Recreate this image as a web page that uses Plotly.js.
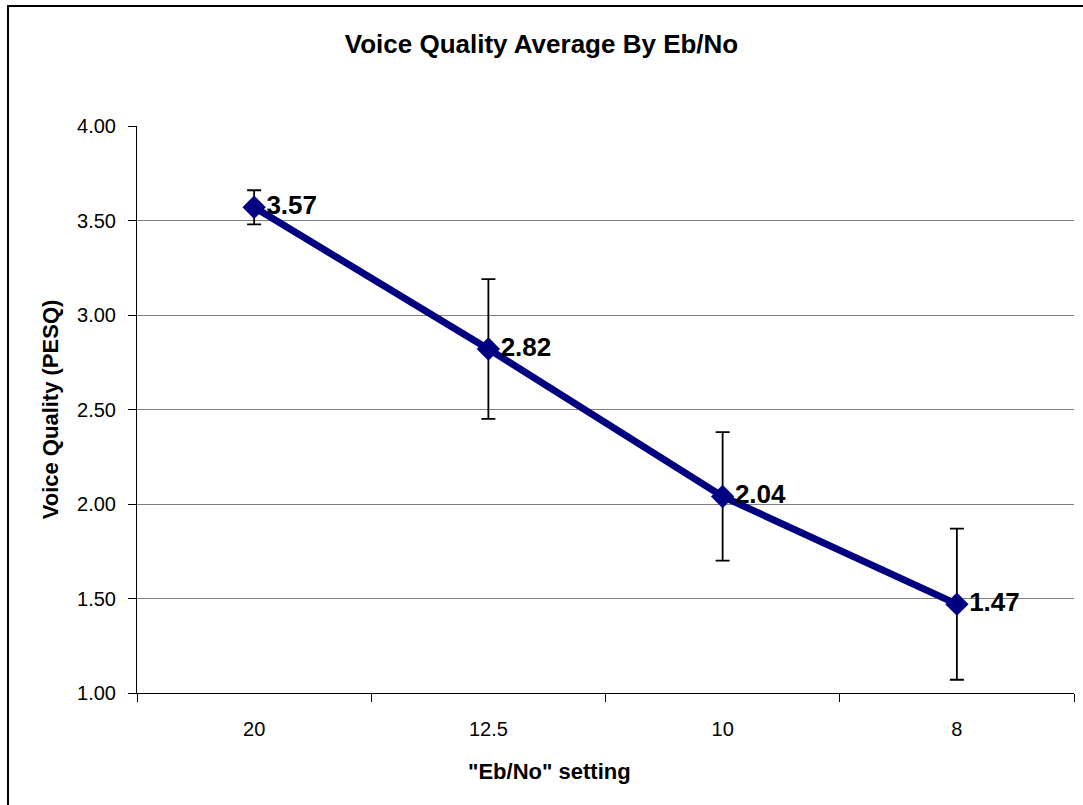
<!DOCTYPE html>
<html>
<head>
<meta charset="utf-8">
<script src="https://cdn.plot.ly/plotly-3.0.1.min.js"></script>
<style>
  html, body { margin: 0; padding: 0; background: #ffffff; }
  #chart { width: 1083px; height: 805px; }
</style>
</head>
<body>
<div id="chart"></div>
<script>
// Data
const categories = ["20", "12.5", "10", "8"];
const pesqMeans = [3.57, 2.82, 2.04, 1.47];
const pesqErrors = [0.09, 0.37, 0.34, 0.40];
const yTickValues = [1.0, 1.5, 2.0, 2.5, 3.0, 3.5, 4.0];

const chartTitle = "Voice Quality Average By Eb/No";
const xTitle = "\"Eb/No\" setting";
const yTitle = "Voice Quality (PESQ)";

const FONT = "Liberation Sans, Arial, sans-serif";

const trace = {
  type: "scatter",
  mode: "lines+markers+text",
  x: categories,
  y: pesqMeans,
  line: { color: "#000080", width: 7 },
  marker: { symbol: "diamond", size: 18, color: "#000080" },
  error_y: {
    type: "data",
    array: pesqErrors,
    visible: true,
    color: "#000000",
    thickness: 1.8,
    width: 7
  },
  text: pesqMeans.map(v => v.toFixed(2)),
  texttemplate: "<b>%{text}</b>",
  textposition: "middle right",
  textfont: { family: FONT, size: 26, color: "#000000" },
  cliponaxis: false,
  hoverinfo: "x+y"
};

const layout = {
  width: 1083,
  height: 805,
  paper_bgcolor: "#ffffff",
  plot_bgcolor: "#ffffff",
  showlegend: false,
  margin: { l: 137, r: 9, t: 126, b: 112 },
  font: { family: FONT, color: "#000000" },
  title: {
    text: "<b>" + chartTitle + "</b>",
    font: { family: FONT, size: 26, color: "#000000" },
    xref: "container", x: 0.5, xanchor: "center",
    yref: "container", y: 1 - 44 / 805, yanchor: "middle"
  },
  xaxis: {
    type: "category",
    range: [-0.5, 3.5],
    tickson: "boundaries",
    ticks: "outside",
    ticklen: 8,
    tickwidth: 1,
    tickcolor: "#000000",
    showline: true,
    linecolor: "#000000",
    linewidth: 1,
    showgrid: false,
    zeroline: false,
    tickfont: { family: FONT, size: 20, color: "#000000" },
    ticklabelstandoff: 18
  },
  yaxis: {
    range: [1, 4],
    tickvals: yTickValues,
    tickformat: ".2f",
    ticks: "outside",
    ticklen: 8,
    tickwidth: 1,
    tickcolor: "#000000",
    showline: true,
    linecolor: "#000000",
    linewidth: 1,
    showgrid: true,
    gridcolor: "#808080",
    gridwidth: 1,
    zeroline: false,
    tickfont: { family: FONT, size: 20, color: "#000000" },
    ticklabelstandoff: 8,
    title: {
      text: "<b>" + yTitle + "</b>",
      font: { family: FONT, size: 22, color: "#000000" },
      standoff: 12
    }
  },
  annotations: [
    {
      text: "<b>" + xTitle + "</b>",
      xref: "paper", yref: "paper",
      x: (549 - 137) / 937, y: (693 - 771) / 567,
      xanchor: "center", yanchor: "middle",
      showarrow: false,
      font: { family: FONT, size: 22, color: "#000000" }
    }
  ],
  shapes: [
    {
      type: "rect",
      xref: "paper", yref: "paper",
      x0: (8 - 137) / 937, x1: 1.2,
      y0: -0.4, y1: (693 - 6) / 567,
      line: { color: "#000000", width: 2 },
      fillcolor: "rgba(0,0,0,0)",
      layer: "below"
    }
  ]
};

Plotly.newPlot("chart", [trace], layout, { displayModeBar: false, staticPlot: true });
</script>
</body>
</html>
